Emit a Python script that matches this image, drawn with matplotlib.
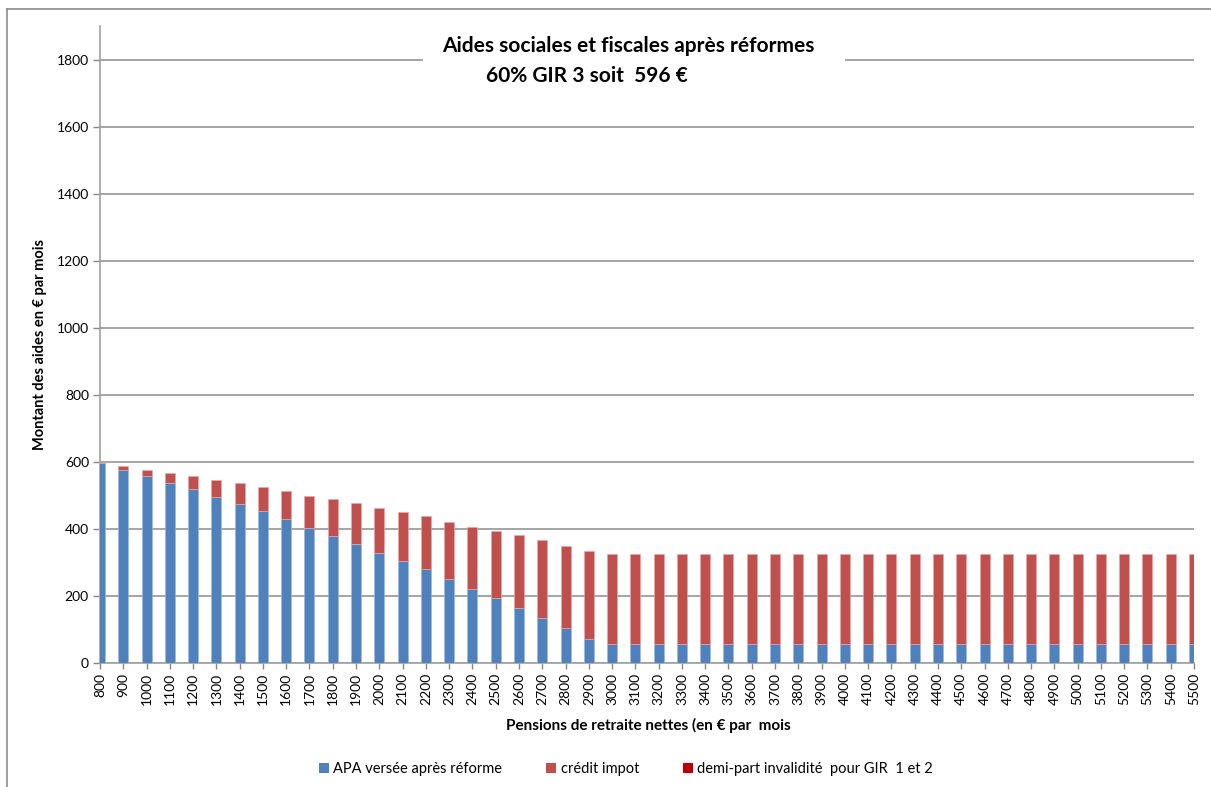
import matplotlib
matplotlib.use("Agg")
import matplotlib.pyplot as plt
from matplotlib.patches import Rectangle, Patch
from matplotlib.lines import Line2D
import numpy as np

plt.rcParams['font.family'] = ['Lato', 'DejaVu Sans']

# Pension levels (€ / month)
pensions = [800, 900, 1000, 1100, 1200, 1300, 1400, 1500, 1600, 1700, 1800, 1900,
            2000, 2100, 2200, 2300, 2400, 2500, 2600, 2700, 2800, 2900, 3000, 3100,
            3200, 3300, 3400, 3500, 3600, 3700, 3800, 3900, 4000, 4100, 4200, 4300,
            4400, 4500, 4600, 4700, 4800, 4900, 5000, 5100, 5200, 5300, 5400, 5500]

apa = [596, 577, 558, 536, 518, 496, 474, 452, 429, 403, 380, 356,
       329, 304, 279, 250, 222, 193, 163, 134, 105, 72, 57, 57,
       57, 57, 57, 57, 57, 57, 57, 57, 57, 57, 57, 57,
       57, 57, 57, 57, 57, 57, 57, 57, 57, 57, 57, 57]

credit_impot = [4, 11, 18, 30, 40, 51, 62, 72, 84, 95, 108, 121,
                133, 147, 158, 172, 185, 202, 218, 232, 243, 261, 269, 269,
                269, 269, 269, 269, 269, 269, 269, 269, 269, 269, 269, 269,
                269, 269, 269, 269, 269, 269, 269, 269, 269, 269, 269, 269]

demi_part = [0, 0, 0, 0, 0, 0, 0, 0, 0, 0, 0, 0,
             0, 0, 0, 0, 0, 0, 0, 0, 0, 0, 0, 0,
             0, 0, 0, 0, 0, 0, 0, 0, 0, 0, 0, 0,
             0, 0, 0, 0, 0, 0, 0, 0, 0, 0, 0, 0]

series_names = ["APA versée après réforme", "crédit impot",
                "demi-part invalidité  pour GIR  1 et 2"]
colors = ["#4F81BD", "#C0504D", "#C00000"]

W, H = 1211, 787
fig = plt.figure(figsize=(W / 100, H / 100), dpi=100)
fig.patch.set_facecolor("white")

ax = fig.add_axes([100 / W, 1 - 663 / H, (1194 - 100) / W, (663 - 26) / H])

x = np.arange(len(pensions))
bw = 0.43
a = np.array(apa, dtype=float)
c = np.array(credit_impot, dtype=float)
d = np.array(demi_part, dtype=float)
ax.bar(x, a, width=bw, color=colors[0], edgecolor="#9DB8DC", linewidth=0.5, zorder=3)
ax.bar(x, c, width=bw, bottom=a, color=colors[1], edgecolor="#E3A9A8", linewidth=0.5, zorder=3)
ax.bar(x, d, width=bw, bottom=a + c, color=colors[2], linewidth=0, zorder=3)

ax.set_xlim(0, len(pensions) - 1)
ax.set_ylim(0, 1900)
ax.set_yticks(range(0, 1801, 200))
ax.set_xticks(x)
ax.set_xticklabels([str(p) for p in pensions], rotation=90, fontsize=10)
ax.tick_params(axis="y", labelsize=10, length=5, width=1, color="#888888", pad=3)
ax.tick_params(axis="x", length=4, width=1, color="#888888", pad=3)

ax.grid(axis="y", color="#8C8C8C", linewidth=1.1, zorder=1)
ax.set_axisbelow(True)
for s in ["top", "right"]:
    ax.spines[s].set_visible(False)
ax.spines["left"].set_color("#A0A0A0")
ax.spines["bottom"].set_color("#A0A0A0")
ax.spines["left"].set_linewidth(1.2)
ax.spines["bottom"].set_linewidth(1.2)

ax.set_ylabel("Montant des aides en € par mois", fontsize=10.5, fontweight="bold", labelpad=7)
fig.text(648 / W, 1 - 725 / H, "Pensions de retraite nettes (en € par  mois",
         ha="center", va="center", fontsize=11, fontweight="bold")

# Title block over the top gridline
fig.patches.append(Rectangle((423 / W, 1 - 95 / H), (845 - 423) / W, 65 / H,
                             transform=fig.transFigure, facecolor="white",
                             edgecolor="none", zorder=5))
fig.text(628 / W, 1 - 46 / H, "Aides sociales et fiscales après réformes",
         ha="center", va="center", fontsize=15, fontweight="bold", zorder=6)
fig.text(587 / W, 1 - 76 / H, "60% GIR 3 soit  596 €",
         ha="center", va="center", fontsize=15, fontweight="bold", zorder=6)

handles = [Patch(facecolor=col, edgecolor="none") for col in colors]
fig.legend(handles, series_names, loc="center", bbox_to_anchor=(626 / W, 1 - 769 / H),
           ncol=3, frameon=False, fontsize=10.5, handlelength=0.7, handleheight=0.7,
           handletextpad=0.3, columnspacing=3.0)

# Chart-area frame
fig.add_artist(Line2D([7 / W, 1.0], [1 - 9 / H, 1 - 9 / H], transform=fig.transFigure,
                      color="#8C8C8C", linewidth=1.2))
fig.add_artist(Line2D([7 / W, 7 / W], [1 - 9 / H, 0.0], transform=fig.transFigure,
                      color="#8C8C8C", linewidth=1.2))

fig.savefig("out.png", dpi=100)
